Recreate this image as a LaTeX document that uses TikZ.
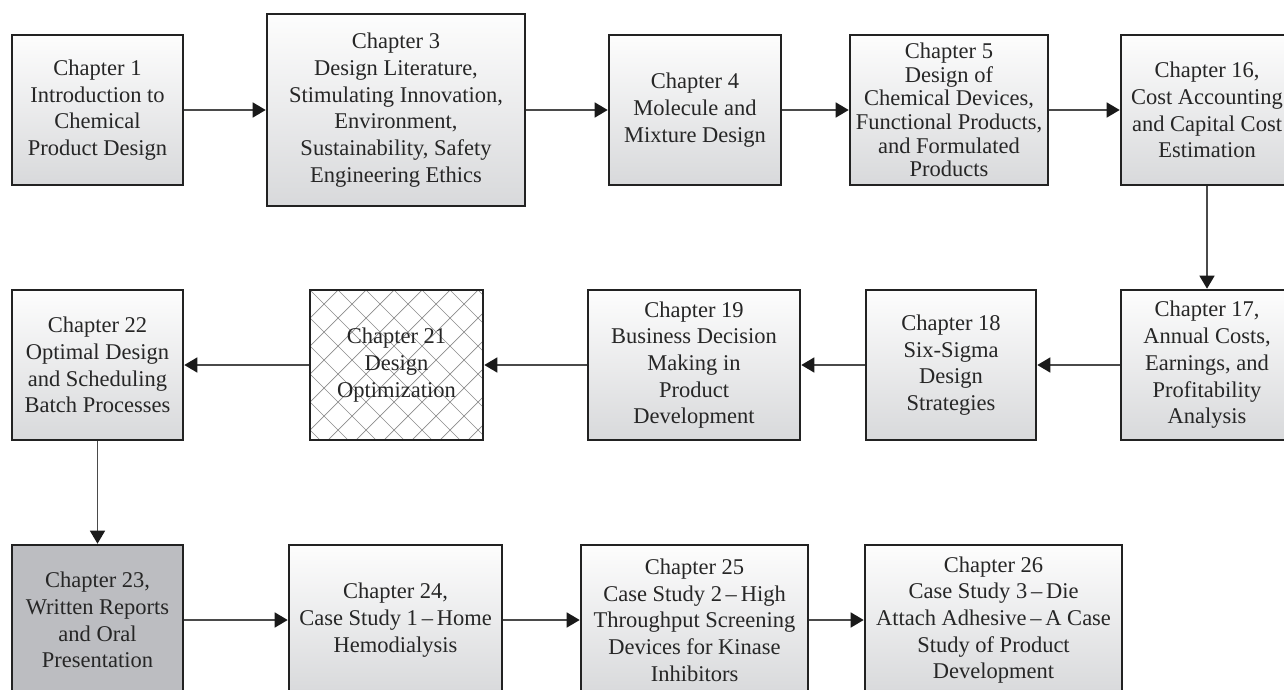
\documentclass[tikz,border=0pt]{standalone}
\usepackage{fontspec}
\setmainfont{Liberation Serif}
\usetikzlibrary{arrows.meta}
\definecolor{edgec}{HTML}{222222}
\definecolor{txtc}{HTML}{262626}
\definecolor{linec}{HTML}{4A4A4A}
\definecolor{tipc}{HTML}{1A1A1A}
\definecolor{topc}{HTML}{FDFDFD}
\definecolor{botc}{HTML}{D8D9DB}
\definecolor{darkfill}{HTML}{BCBDC1}
\definecolor{hatchc}{HTML}{8C8C8C}
\begin{document}
\begin{tikzpicture}[x=1pt,y=-1pt,
  basebox/.style={draw=edgec, line width=2.6pt, rectangle, inner sep=0pt,
    align=center, minimum height=150pt, text=txtc,
    font=\fontsize{22.5}{26.7}\selectfont},
  gradbox/.style={basebox, top color=topc, bottom color=botc},
  darkbox/.style={basebox, fill=darkfill},
  hatchbox/.style={basebox, fill=white, path picture={
    \foreach \k in {-10,...,16}{
      \draw[hatchc, line width=0.7pt] ([xshift={\k*28pt}]path picture bounding box.north west) -- ++(220pt,-220pt);
      \draw[hatchc, line width=0.7pt] ([xshift={\k*28pt}]path picture bounding box.north west) -- ++(-220pt,-220pt);
    }}},
  conn/.style={draw=linec, line width=1.5pt, -{Triangle[length=13pt,width=15pt,color=tipc]}}
]
\useasboundingbox (0,0) rectangle (1284,690);
\clip (0,0) rectangle (1284,690);

% Row 1
\node[gradbox, minimum width=171pt] (c1) at (97.5,110) {Chapter 1\\Introduction to\\Chemical\\Product Design};
\node[gradbox, minimum width=258pt, minimum height=192pt] (c3) at (396,110) {Chapter 3\\Design Literature,\\Stimulating Innovation,\\Environment,\\Sustainability, Safety\\Engineering Ethics};
\node[gradbox, minimum width=172pt] (c4) at (695,110) {Chapter 4\\Molecule and\\Mixture Design};
\node[gradbox, minimum width=198pt, font=\fontsize{22.5}{23.6}\selectfont] (c5) at (949,110) {Chapter 5\\Design of\\Chemical Devices,\\Functional Products,\\and Formulated\\Products};
\node[gradbox, minimum width=172pt] (c16) at (1207,110) {Chapter 16,\\Cost Accounting\\and Capital Cost\\Estimation};

% Row 2
\node[gradbox, minimum width=171pt] (c22) at (97.5,365) {Chapter 22\\Optimal Design\\and Scheduling\\Batch Processes};
\node[hatchbox, minimum width=173pt] (c21) at (396.5,365) {Chapter 21\\Design\\Optimization};
\node[gradbox, minimum width=212pt] (c19) at (694,365) {Chapter 19\\Business Decision\\Making in\\Product\\Development};
\node[gradbox, minimum width=170pt] (c18) at (951,365) {Chapter 18\\Six-Sigma\\Design\\Strategies};
\node[gradbox, minimum width=172pt] (c17) at (1207,365) {Chapter 17,\\Annual Costs,\\Earnings, and\\Profitability\\Analysis};

% Row 3
\node[darkbox, minimum width=171pt] (c23) at (97.5,620) {Chapter 23,\\Written Reports\\and Oral\\Presentation};
\node[gradbox, minimum width=213pt] (c24) at (395.5,620) {Chapter 24,\\Case Study 1\,–\,Home\\Hemodialysis};
\node[gradbox, minimum width=227pt] (c25) at (694.5,620) {Chapter 25\\Case Study 2\,–\,High\\Throughput Screening\\Devices for Kinase\\Inhibitors};
\node[gradbox, minimum width=257pt] (c26) at (993.5,620) {Chapter 26\\Case Study 3\,–\,Die\\Attach Adhesive\,–\,A Case\\Study of Product\\Development};

% Connectors
\draw[conn] (c1.east) -- (c3.west);
\draw[conn] (c3.east) -- (c4.west);
\draw[conn] (c4.east) -- (c5.west);
\draw[conn] (c5.east) -- (c16.west);
\draw[conn] (c16.south) -- (c17.north);
\draw[conn] (c17.west) -- (c18.east);
\draw[conn] (c18.west) -- (c19.east);
\draw[conn] (c19.west) -- (c21.east);
\draw[conn] (c21.west) -- (c22.east);
\draw[conn] (c22.south) -- (c23.north);
\draw[conn] (c23.east) -- (c24.west);
\draw[conn] (c24.east) -- (c25.west);
\draw[conn] (c25.east) -- (c26.west);
\end{tikzpicture}
\end{document}
